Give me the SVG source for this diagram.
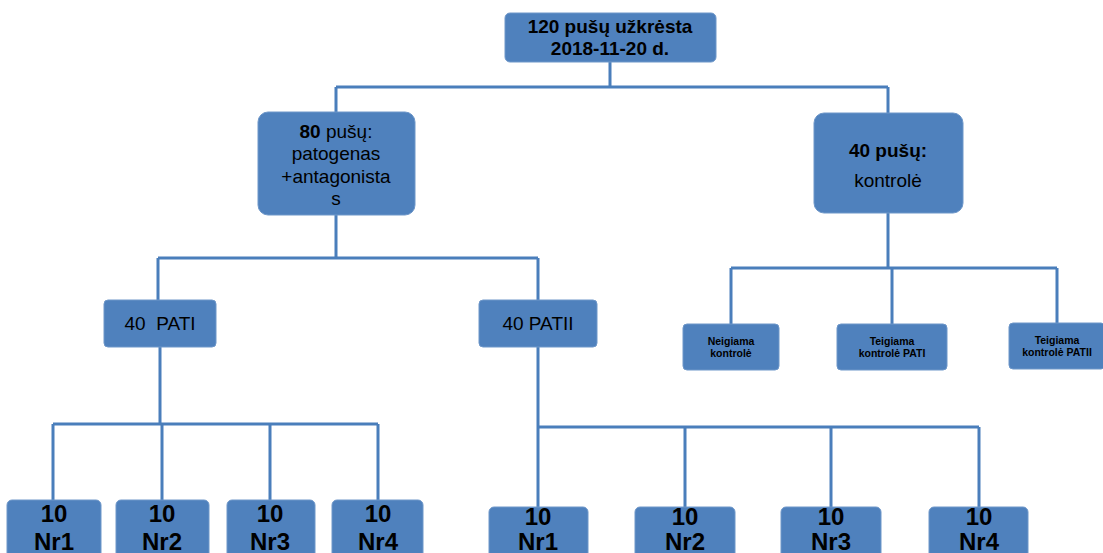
<svg xmlns="http://www.w3.org/2000/svg" width="1103" height="553" viewBox="0 0 1103 553">
<style>
.box{fill:#4F81BD;stroke:#6E97C9;stroke-width:1}
.t{font-family:"Liberation Sans",Arial,sans-serif;fill:#000;text-anchor:middle}
.b{font-weight:bold}
.c{fill:none;stroke:#4A7EBB;stroke-width:3}
.n{font-size:24px;font-weight:bold}
</style>
<rect width="1103" height="553" fill="#fff"/>
<g id="connectors">
<path class="c" d="M610 62V87M336 87H888M336 87V112M888 87V113"/>
<path class="c" d="M336 215V258M158 258H538M158 258V300M538 258V300"/>
<path class="c" d="M888 213V268M731 268H1057M731 268V324M892 268V324M1057 268V323"/>
<path class="c" d="M160 347V424M53 424H378M53 424V500M162 424V500M270 424V500M378 424V500"/>
<path class="c" d="M538 347V427H979M538 427V507M685 427V507M831 427V507M979 427V507"/>
</g>
<g id="n-top"><rect class="box" x="505" y="13" width="211" height="49" rx="5"/>
<text class="t b" x="610" y="33" font-size="19">120 pušų užkrėsta</text>
<text class="t b" x="610" y="55" font-size="19">2018-11-20 d.</text></g>
<g id="n-80"><rect class="box" x="258" y="112" width="157" height="103" rx="10"/>
<text class="t" x="336" y="138" font-size="19"><tspan font-weight="bold">80</tspan> pušų:</text>
<text class="t" x="336" y="160" font-size="19">patogenas</text>
<text class="t" x="336" y="183" font-size="19">+antagonista</text>
<text class="t" x="336" y="205" font-size="19">s</text></g>
<g id="n-40"><rect class="box" x="814" y="113" width="149" height="100" rx="10"/>
<text class="t b" x="888" y="157" font-size="19">40 pušų:</text>
<text class="t" x="888" y="187" font-size="19">kontrolė</text></g>
<g id="n-pati"><rect class="box" x="104" y="300" width="112" height="47" rx="4"/>
<text class="t" x="160" y="330" font-size="19" xml:space="preserve">40  PATI</text></g>
<g id="n-patii"><rect class="box" x="479" y="300" width="118" height="47" rx="4"/>
<text class="t" x="538" y="330" font-size="19">40 PATII</text></g>
<g id="n-neg"><rect class="box" x="683" y="324" width="96" height="46" rx="4"/>
<text class="t b" x="731" y="345" font-size="10.5">Neigiama</text>
<text class="t b" x="731" y="357" font-size="10.5">kontrolė</text></g>
<g id="n-tpati"><rect class="box" x="837" y="324" width="110" height="46" rx="4"/>
<text class="t b" x="892" y="345" font-size="10.5">Teigiama</text>
<text class="t b" x="892" y="357" font-size="10.5">kontrolė PATI</text></g>
<g id="n-tpatii"><rect class="box" x="1009" y="323" width="96" height="46" rx="4"/>
<text class="t b" x="1057" y="344" font-size="10.5">Teigiama</text>
<text class="t b" x="1057" y="356" font-size="10.5">kontrolė PATII</text></g>
<g id="n-a1"><rect class="box" x="7" y="500" width="94" height="60" rx="5"/>
<text class="t n" x="54" y="522">10</text><text class="t n" x="54" y="550">Nr1</text></g>
<g id="n-a2"><rect class="box" x="116" y="500" width="93" height="60" rx="5"/>
<text class="t n" x="162" y="522">10</text><text class="t n" x="162" y="550">Nr2</text></g>
<g id="n-a3"><rect class="box" x="227" y="500" width="88" height="60" rx="5"/>
<text class="t n" x="270" y="522">10</text><text class="t n" x="270" y="550">Nr3</text></g>
<g id="n-a4"><rect class="box" x="332" y="500" width="91" height="60" rx="5"/>
<text class="t n" x="378" y="522">10</text><text class="t n" x="378" y="550">Nr4</text></g>
<g id="n-b1"><rect class="box" x="489" y="507" width="99" height="60" rx="5"/>
<text class="t n" x="538" y="525">10</text><text class="t n" x="538" y="550">Nr1</text></g>
<g id="n-b2"><rect class="box" x="635" y="507" width="100" height="60" rx="5"/>
<text class="t n" x="685" y="525">10</text><text class="t n" x="685" y="550">Nr2</text></g>
<g id="n-b3"><rect class="box" x="781" y="507" width="100" height="60" rx="5"/>
<text class="t n" x="831" y="525">10</text><text class="t n" x="831" y="550">Nr3</text></g>
<g id="n-b4"><rect class="box" x="929" y="507" width="99" height="60" rx="5"/>
<text class="t n" x="979" y="525">10</text><text class="t n" x="979" y="550">Nr4</text></g>
</svg>
